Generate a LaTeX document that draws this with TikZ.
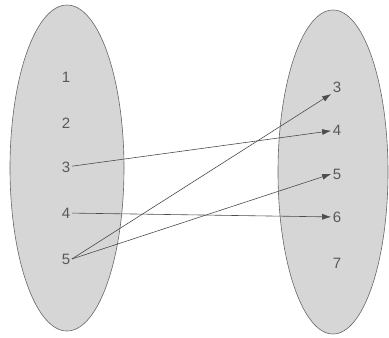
\documentclass[tikz,border=0pt]{standalone}
\usepackage{fontspec}
\setmainfont{Liberation Sans}
\usetikzlibrary{arrows.meta}

\begin{document}
\begin{tikzpicture}[x=1pt,y=-1pt,>={Latex[length=9pt,width=6pt]}]
\tikzset{setbox/.style={draw=gray!80!black,fill=gray!32,line width=0.6pt},
  elem/.style={text=black!65,font=\fontsize{15}{17}\selectfont,inner sep=1.5pt},
  mapline/.style={->,draw=black!70,line width=0.6pt}}
\useasboundingbox (0,0) rectangle (389,338);
\draw[setbox] (67,168) ellipse [x radius=57,y radius=163];
\draw[setbox] (333,172) ellipse [x radius=55,y radius=162];
% domain
\node[elem] (a1) at (66,77){1};
\node[elem] (a2) at (66,123){2};
\node[elem] (a3) at (66,167){3};
\node[elem] (a4) at (66,213){4};
\node[elem] (a5) at (66,259){5};
% codomain
\node[elem] (b3) at (337,87){3};
\node[elem] (b4) at (337,130){4};
\node[elem] (b5) at (337,174){5};
\node[elem] (b6) at (337,217){6};
\node[elem] (b7) at (337,263){7};
\draw[mapline] (a3)--(b4);
\draw[mapline] (a4)--(b6);
\draw[mapline] (a5.east)--(b3.south west);
\draw[mapline] (a5.east)--(b5.west);
\end{tikzpicture}
\end{document}
